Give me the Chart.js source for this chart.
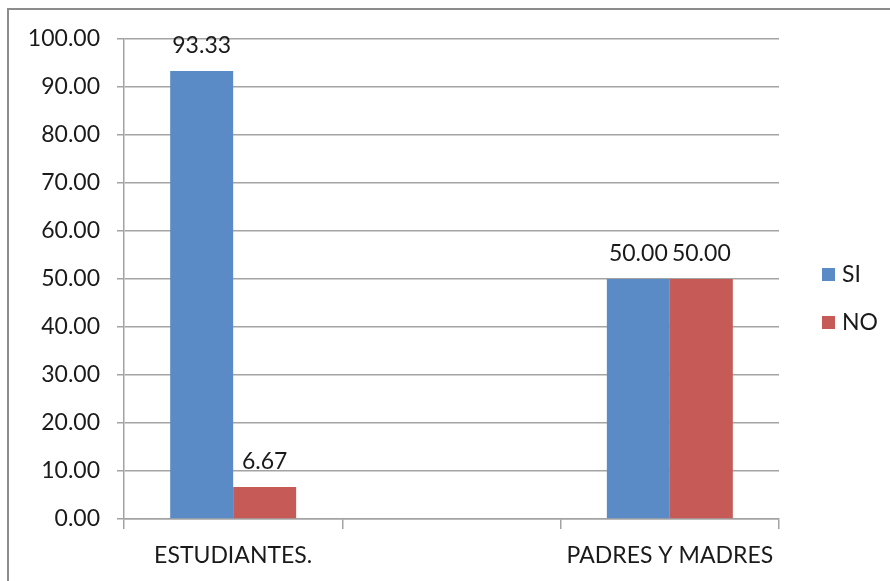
<!DOCTYPE html>
<html>
<head>
<meta charset="utf-8">
<script src="https://cdn.jsdelivr.net/npm/chart.js@4/dist/chart.umd.min.js"></script>
<style>
  html, body { margin: 0; padding: 0; background: #fff; }
  #wrap { width: 890px; height: 581px; }
</style>
</head>
<body>
<div id="wrap"><canvas id="chart" width="890" height="581"></canvas></div>
<script>
// datos del gráfico
const categories = ['ESTUDIANTES.', '', 'PADRES Y MADRES'];
const seriesNames = ['SI', 'NO'];
const siValues = [93.33, null, 50.00];
const noValues = [6.67, null, 50.00];
const yTicks = [0, 10, 20, 30, 40, 50, 60, 70, 80, 90, 100];

const FONT = 'Lato';
const FSIZE = 23;
const GRID = '#a3a3a3';
const COLORS = ['#5b8bc6', '#c55a57'];

// marco del gráfico (borde gris)
const framePlugin = {
  id: 'frame',
  beforeDraw(chart) {
    const ctx = chart.ctx;
    ctx.save();
    ctx.strokeStyle = '#8c8c8c';
    ctx.lineWidth = 2;
    ctx.beginPath();
    ctx.moveTo(8, chart.height);
    ctx.lineTo(8, 9);
    ctx.lineTo(chart.width, 9);
    ctx.stroke();
    ctx.restore();
  }
};

// etiquetas de valor encima de cada barra
const valueLabels = {
  id: 'valueLabels',
  afterDatasetsDraw(chart) {
    const ctx = chart.ctx;
    ctx.save();
    ctx.font = FSIZE + 'px ' + FONT;
    ctx.fillStyle = '#1a1a1a';
    ctx.textAlign = 'center';
    ctx.textBaseline = 'alphabetic';
    chart.data.datasets.forEach((ds, i) => {
      chart.getDatasetMeta(i).data.forEach((bar, j) => {
        const v = ds.data[j];
        if (v === null) return;
        ctx.fillText(v.toFixed(2), bar.x, bar.y - 18);
      });
    });
    ctx.restore();
  }
};

// leyenda a la derecha
const sideLegend = {
  id: 'sideLegend',
  afterDraw(chart) {
    const ctx = chart.ctx;
    ctx.save();
    ctx.font = FSIZE + 'px ' + FONT;
    ctx.textBaseline = 'middle';
    ctx.textAlign = 'left';
    chart.data.datasets.forEach((ds, i) => {
      const y = 275 + i * 48;
      ctx.fillStyle = ds.backgroundColor;
      ctx.fillRect(822, y - 7, 13, 13);
      ctx.fillStyle = '#1a1a1a';
      ctx.fillText(ds.label, 842, y);
    });
    ctx.restore();
  }
};

new Chart(document.getElementById('chart'), {
  type: 'bar',
  data: {
    labels: categories,
    datasets: [
      { label: seriesNames[0], data: siValues, backgroundColor: COLORS[0] },
      { label: seriesNames[1], data: noValues, backgroundColor: COLORS[1] }
    ]
  },
  options: {
    responsive: false,
    animation: false,
    layout: { padding: { left: 0, top: 39, right: 111, bottom: 0 } },
    datasets: {
      bar: { categoryPercentage: 0.577, barPercentage: 1.0 }
    },
    plugins: {
      legend: { display: false },
      tooltip: { enabled: false }
    },
    scales: {
      x: {
        offset: true,
        grid: { offset: true, drawOnChartArea: false, tickLength: 10, color: GRID, lineWidth: 1.5 },
        border: { color: GRID, width: 1.5 },
        ticks: { padding: 13, color: '#1a1a1a', font: { family: FONT, size: FSIZE }, maxRotation: 0, autoSkip: false },
        afterFit(scale) { scale.height = 62; }
      },
      y: {
        min: 0,
        max: 100,
        afterBuildTicks(scale) { scale.ticks = yTicks.map(v => ({ value: v })); },
        grid: { tickLength: 7, color: GRID, lineWidth: 1.5 },
        border: { color: GRID, width: 1.5 },
        ticks: {
          padding: 17,
          color: '#1a1a1a',
          font: { family: FONT, size: FSIZE },
          callback: v => v.toFixed(2)
        },
        afterFit(scale) { scale.width = 124; }
      }
    }
  },
  plugins: [framePlugin, valueLabels, sideLegend]
});
</script>
</body>
</html>
